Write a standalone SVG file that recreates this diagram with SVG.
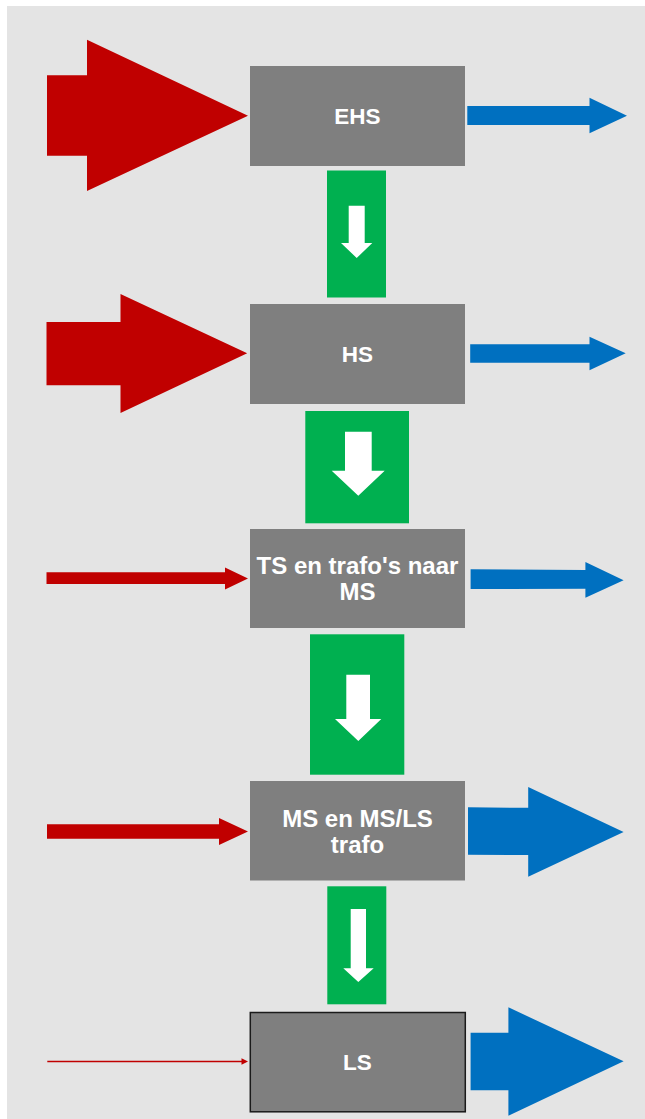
<svg xmlns="http://www.w3.org/2000/svg" width="645" height="1119" viewBox="0 0 645 1119">
  <style>
    .box { fill: #7F7F7F; }
    .lbl { fill: #FFFFFF; font-family: "Liberation Sans", Arial, sans-serif; font-weight: bold; text-anchor: middle; }
    .red { fill: #C00000; }
    .blue { fill: #0070C0; }
    .green { fill: #00B050; }
    .white { fill: #FFFFFF; }
  </style>
  <rect x="0" y="0" width="645" height="1119" fill="#FFFFFF"/>
  <rect x="7" y="6" width="638" height="1113" fill="#E4E4E4"/>

  <g id="connectors">
    <!-- red inputs -->
    <polygon class="red" points="47,75.3 87,75.3 87,39.7 248,115.7 87,191 87,155.7 47,155.7"/>
    <polygon class="red" points="46.5,322 120.5,322 120.5,294 247.2,353.3 120.5,413 120.5,385.3 46.5,385.3"/>
    <polygon class="red" points="46.5,572.3 225,572.3 225,567.5 248,578.5 225,589.5 225,584 46.5,584"/>
    <polygon class="red" points="47,824.3 219,824.3 219,818 248,831.5 219,845 219,838.7 47,838.7"/>
    <line x1="47.3" y1="1061.5" x2="243" y2="1061.5" stroke="#C00000" stroke-width="1.3"/>
    <polygon class="red" points="241.5,1058.3 248,1061.5 241.5,1064.7"/>

    <!-- blue outputs -->
    <polygon class="blue" points="467.3,106 589.5,106 589.5,97.7 627,115.7 589.5,133.3 589.5,125 467.3,125"/>
    <polygon class="blue" points="470.2,344.3 589.5,344.3 589.5,336.7 625.7,353.3 589.5,370.3 589.5,362.7 470.2,362.7"/>
    <polygon class="blue" points="470.6,569.3 585.4,570 585.4,562 623.6,580.3 585.4,597.7 585.4,588.8 470.6,589"/>
    <polygon class="blue" points="468,807.3 528.2,807.8 528.2,787 623.6,832 528.2,876.7 528.2,855 468,854.7"/>
    <polygon class="blue" points="470.6,1032.7 508.4,1032.7 508.4,1007.3 623.6,1061.3 508.4,1115.7 508.4,1090.3 470.6,1090.3"/>

    <!-- green downward flows -->
    <rect class="green" x="327" y="170.5" width="59" height="127"/>
    <polygon class="white" points="348.7,205.7 364.7,205.7 364.7,243 372.3,243 356.7,258 341,243 348.7,243"/>
    <rect class="green" x="305.3" y="411" width="103.7" height="112.3"/>
    <polygon class="white" points="345,431.7 371.7,431.7 371.7,470.7 384.7,470.7 358.3,495.7 331.7,470.7 345,470.7"/>
    <rect class="green" x="310" y="634.3" width="94.3" height="140.4"/>
    <polygon class="white" points="346.3,674.7 370,674.7 370,719 381.3,719 358.3,741 335,719 346.3,719"/>
    <rect class="green" x="327.3" y="886.3" width="59" height="118"/>
    <polygon class="white" points="350.7,909 366,909 366,968.3 373.7,968.3 358.3,982 343.3,968.3 350.7,968.3"/>
  </g>

  <g id="node-ehs">
    <rect class="box" x="250" y="66" width="215" height="100"/>
    <text class="lbl" x="357.5" y="124.3" font-size="22.5">EHS</text>
  </g>
  <g id="node-hs">
    <rect class="box" x="250" y="304" width="215" height="100"/>
    <text class="lbl" x="357.5" y="362.3" font-size="22.5">HS</text>
  </g>
  <g id="node-ts">
    <rect class="box" x="250" y="529" width="215" height="99"/>
    <text class="lbl" x="357.5" y="574" font-size="24">TS en trafo's naar</text>
    <text class="lbl" x="357.5" y="600" font-size="24">MS</text>
  </g>
  <g id="node-ms">
    <rect class="box" x="250" y="781" width="215" height="99.5"/>
    <text class="lbl" x="357.5" y="826.6" font-size="24">MS en MS/LS</text>
    <text class="lbl" x="357.5" y="853.2" font-size="24">trafo</text>
  </g>
  <g id="node-ls">
    <rect class="box" x="250.3" y="1012.5" width="215" height="99.3" stroke="#1A1A1A" stroke-width="1.5"/>
    <text class="lbl" x="357.5" y="1070" font-size="22.5">LS</text>
  </g>
</svg>
